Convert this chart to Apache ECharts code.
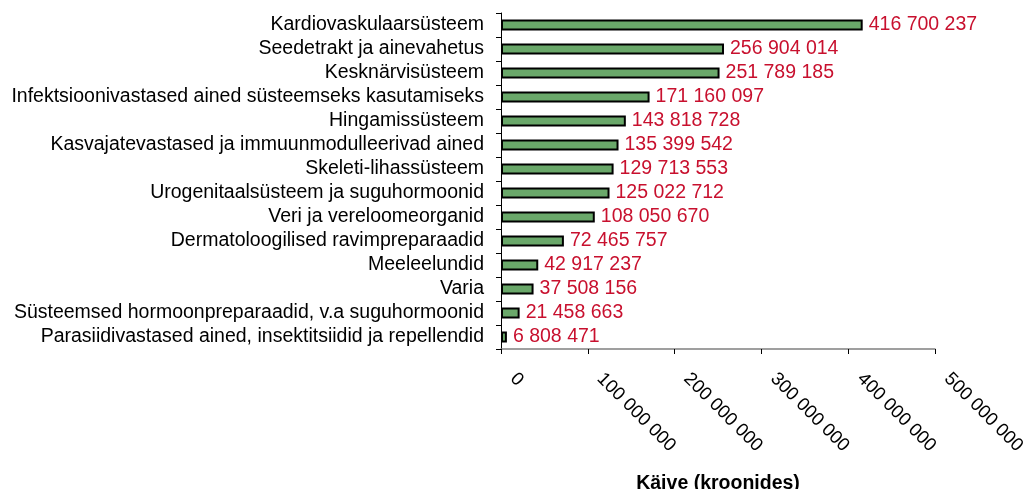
<!DOCTYPE html>
<html><head><meta charset="utf-8">
<script src="https://cdn.jsdelivr.net/npm/echarts@6/dist/echarts.min.js"></script>
<style>html,body{margin:0;padding:0;background:#fff}#c{width:1027px;height:489px}</style>
</head><body><div id="c"></div>
<script>
const categories = [
  "Kardiovaskulaarsüsteem",
  "Seedetrakt ja ainevahetus",
  "Kesknärvisüsteem",
  "Infektsioonivastased ained süsteemseks kasutamiseks",
  "Hingamissüsteem",
  "Kasvajatevastased ja immuunmodulleerivad ained",
  "Skeleti-lihassüsteem",
  "Urogenitaalsüsteem ja suguhormoonid",
  "Veri ja vereloomeorganid",
  "Dermatoloogilised ravimpreparaadid",
  "Meeleelundid",
  "Varia",
  "Süsteemsed hormoonpreparaadid, v.a suguhormoonid",
  "Parasiidivastased ained, insektitsiidid ja repellendid"
];
const values = [416700237, 256904014, 251789185, 171160097, 143818728, 135399542, 129713553, 125022712, 108050670, 72465757, 42917237, 37508156, 21458663, 6808471];
const axisTitle = "Käive (kroonides)";

function fmt(v){ return String(v).replace(/\B(?=(\d{3})+(?!\d))/g, ' '); }
const FF = 'Liberation Sans, Arial, sans-serif';

const chart = echarts.init(document.getElementById('c'), null, {renderer:'canvas'});
chart.setOption({
  animation:false,
  textStyle:{fontFamily:FF},
  grid:{left:501, right:92, top:13, bottom:140, containLabel:false, outerBoundsMode:'none'},
  xAxis:{
    type:'value', min:0, max:500000000, interval:100000000,
    name:axisTitle, nameLocation:'middle', nameGap:125,
    nameTextStyle:{fontSize:19.5, fontWeight:'bold', color:'#000', fontFamily:FF},
    axisLine:{show:true, lineStyle:{color:'#808080', width:1.5}},
    axisTick:{show:true, inside:false, length:5, lineStyle:{color:'#000'}},
    splitLine:{show:false},
    axisLabel:{rotate:-45, margin:15, padding:[0,0,0,17], fontSize:18.5, color:'#000', formatter:fmt, fontFamily:FF, hideOverlap:false}
  },
  yAxis:{
    type:'category', data:categories, inverse:true,
    axisLine:{show:true, lineStyle:{color:'#000', width:1}},
    axisTick:{show:true, length:5, lineStyle:{color:'#000'}},
    axisLabel:{interval:0, fontSize:19.5, color:'#000', margin:17, fontFamily:FF}
  },
  series:[{
    type:'bar', data:values, barWidth:'46%',
    itemStyle:{color:'#6aa86a', borderColor:'#000', borderWidth:2},
    label:{show:true, position:'right', distance:6, color:'#c8102e', fontSize:19.5, formatter:p=>fmt(p.value), fontFamily:FF}
  }]
});
</script></body></html>
